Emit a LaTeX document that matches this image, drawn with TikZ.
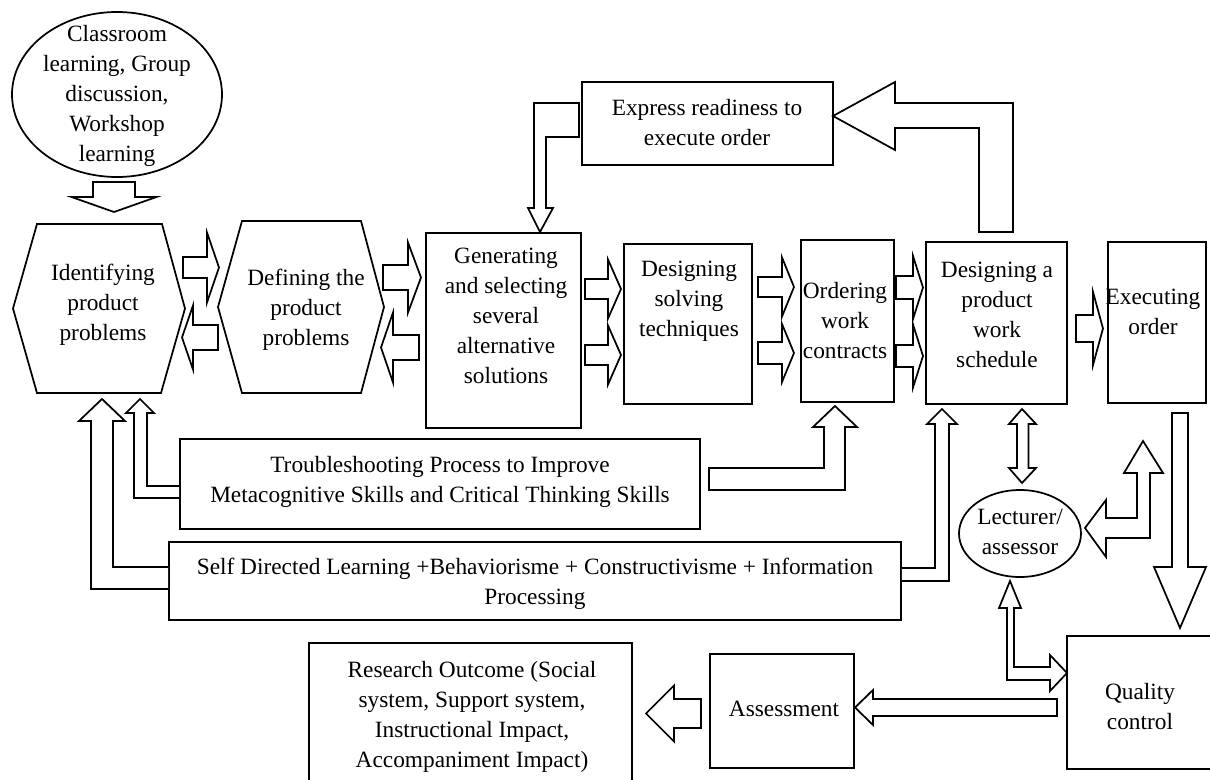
\documentclass[tikz,border=0pt]{standalone}
\usepackage{fontspec}
\setmainfont{Liberation Serif}
\usetikzlibrary{shapes.geometric,fit}
\newcommand\hblk[6]{\draw[blk] (#1,#4-#5) -- (#2,#4-#5) -- (#2,#4-#6) -- (#3,#4) -- (#2,#4+#6) -- (#2,#4+#5) -- (#1,#4+#5) -- cycle;}
\newcommand\vblk[6]{\draw[blk] (#1-#5,#2) -- (#1-#5,#3) -- (#1-#6,#3) -- (#1,#4) -- (#1+#6,#3) -- (#1+#5,#3) -- (#1+#5,#2) -- cycle;}
\begin{document}
\begin{tikzpicture}[x=0.75pt,y=-0.75pt,
  line width=1.3pt,
  box/.style={draw, rectangle, inner sep=0pt, fill=white},
  txt/.style={align=center, inner sep=0pt, font=\fontsize{17.5}{22.5}\selectfont},
  blk/.style={draw, fill=white, line join=miter},
  shp/.style={draw, fill=white, line join=miter}]
\useasboundingbox (0,0) rectangle (1210,780);
\clip (0,0) rectangle (1210,780);
\fill[white] (0,0) rectangle (1210,780);

% ---- ellipse and hexagons
\node[draw, ellipse, minimum width=157.5pt, minimum height=123.75pt, inner sep=0pt] (ell) at (117,94.5) {};
\node[txt] (ellt) at (117,95.5) {Classroom\\learning, Group\\discussion,\\Workshop\\learning};

\draw[shp] (13,308.5) -- (37,224) -- (162,224) -- (185,308.5) -- (161,393) -- (37,393) -- cycle;
\node[txt] (idp) at (103,305) {Identifying\\product\\problems};
\draw[shp] (218,307) -- (242,221) -- (361,221) -- (384,307) -- (361,393) -- (242,393) -- cycle;
\node[txt] (dfp) at (306,310) {Defining the\\product\\problems};

% ---- boxes
\node[box, fit={(426,233) (581,428)}] (gen) {};
\node[txt] (gent) at (506,316) {Generating\\and selecting\\several\\alternative\\solutions};
\node[box, fit={(624,244) (752,404)}] (sol) {};
\node[txt] (solt) at (689,301.5) {Designing\\solving\\techniques};
\node[box, fit={(801,240) (894,402)}] (ord) {};
\node[txt] (ordt) at (845,321) {Ordering\\work\\contracts};
\node[box, fit={(926,242) (1067,404)}] (sch) {};
\node[txt] (scht) at (997,315) {Designing a\\product\\work\\schedule};
\node[box, fit={(1108,242) (1206,403)}] (exe) {};
\node[txt] (exet) at (1153,311.5) {Executing\\order};
\node[box, fit={(582,82) (833,165)}] (exp) {};
\node[txt] (expt) at (707,123) {Express readiness to\\execute order};
\node[box, fit={(180,439) (700,529)}] (trb) {};
\node[txt] (trbt) at (440,481.5) {Troubleshooting Process to Improve\\Metacognitive Skills and Critical Thinking Skills};
\node[box, fit={(169,542) (901,620)}] (sdl) {};
\node[txt] (sdlt) at (535,584) {Self Directed Learning +Behaviorisme + Constructivisme + Information\\Processing};
\node[box, fit={(309,643) (632,800)}] (res) {};
\node[txt] (rest) at (472,717) {Research Outcome (Social\\system, Support system,\\Instructional Impact,\\Accompaniment Impact)};
\node[box, fit={(710,654) (854,768)}] (asm) {};
\node[txt] (asmt) at (784,709) {Assessment};
\node[box, fit={(1067,636) (1225,769)}] (qc) {};
\node[txt] (qct) at (1140,707) {Quality\\control};
\node[draw, ellipse, fill=white, minimum width=91.5pt, minimum height=65.25pt, inner sep=0pt] (lec) at (1020,533.5) {};
\node[txt] (lect) at (1020,532) {Lecturer/\\assessor};

% ---- straight block arrows
\vblk{114}{182}{197}{212}{21}{42.5}
\hblk{183}{207}{219}{267.5}{10.5}{35}
\hblk{218}{193}{182}{337.5}{12.5}{32}
\hblk{383}{408}{421}{277.5}{12.5}{35}
\hblk{419}{393}{381}{347.5}{12.5}{35}
\hblk{585}{608}{621}{289}{10}{29.5}
\hblk{585}{608}{621}{355}{10}{29.5}
\hblk{758}{782}{794}{287}{10}{29.5}
\hblk{758}{782}{794}{353}{11}{29}
\hblk{896}{913}{923}{287.5}{11.5}{31.5}
\hblk{896}{913}{923}{356}{11}{31.5}
\hblk{1076}{1093}{1103}{328.5}{13.5}{36.5}
\vblk{1180}{413}{567}{628}{8}{26}
\hblk{1057}{873}{855}{707.5}{8.5}{17.5}
\hblk{701}{674}{646}{713.5}{14.5}{28}

% ---- bent block arrows
\draw[blk] (579,103) -- (534,103) -- (534,208) -- (528,208) -- (540,232) -- (553,208) -- (546,208) -- (546,137) -- (579,137) -- cycle;
\draw[blk] (979,232) -- (979,128) -- (895,128) -- (895,150) -- (833,116) -- (895,82) -- (895,103) -- (1013,103) -- (1013,232) -- cycle;
\draw[blk] (709,468) -- (824,468) -- (824,427) -- (813,427) -- (835,406) -- (857,427) -- (845,427) -- (845,490) -- (709,490) -- cycle;
\draw[blk] (sdl.east |- 0,568) -- (935,568) -- (935,424) -- (927,424) -- (942,409) -- (957,424) -- (949,424) -- (949,581) -- (sdl.east |- 0,581);
\draw[blk] (trb.west |- 0,486) -- (147,486) -- (147,413) -- (154,413) -- (140,399) -- (126,413) -- (134,413) -- (134,498) -- (trb.west |- 0,498);
\draw[blk] (sdl.west |- 0,567) -- (113,567) -- (113,421) -- (125,421) -- (102,399) -- (79,421) -- (91,421) -- (91,589) -- (sdl.west |- 0,589);
\draw[blk] (1022,409) -- (1036,424) -- (1028.5,424) -- (1028.5,468) -- (1036,468) -- (1022,483) -- (1009,468) -- (1017,468) -- (1017,424) -- (1009,424) -- cycle;
\draw[blk] (1143,441) -- (1163,473) -- (1150,473) -- (1150,538) -- (1106,538) -- (1106,557) -- (1085,528) -- (1106,500) -- (1106,518) -- (1137,518) -- (1137,473) -- (1124,473) -- cycle;
\draw[blk] (1010,581) -- (1021,608) -- (1014,608) -- (1014,667) -- (1050,667) -- (1050,655) -- (1067,673) -- (1050,691) -- (1050,680) -- (1007,680) -- (1007,608) -- (999,608) -- cycle;
\end{tikzpicture}
\end{document}
